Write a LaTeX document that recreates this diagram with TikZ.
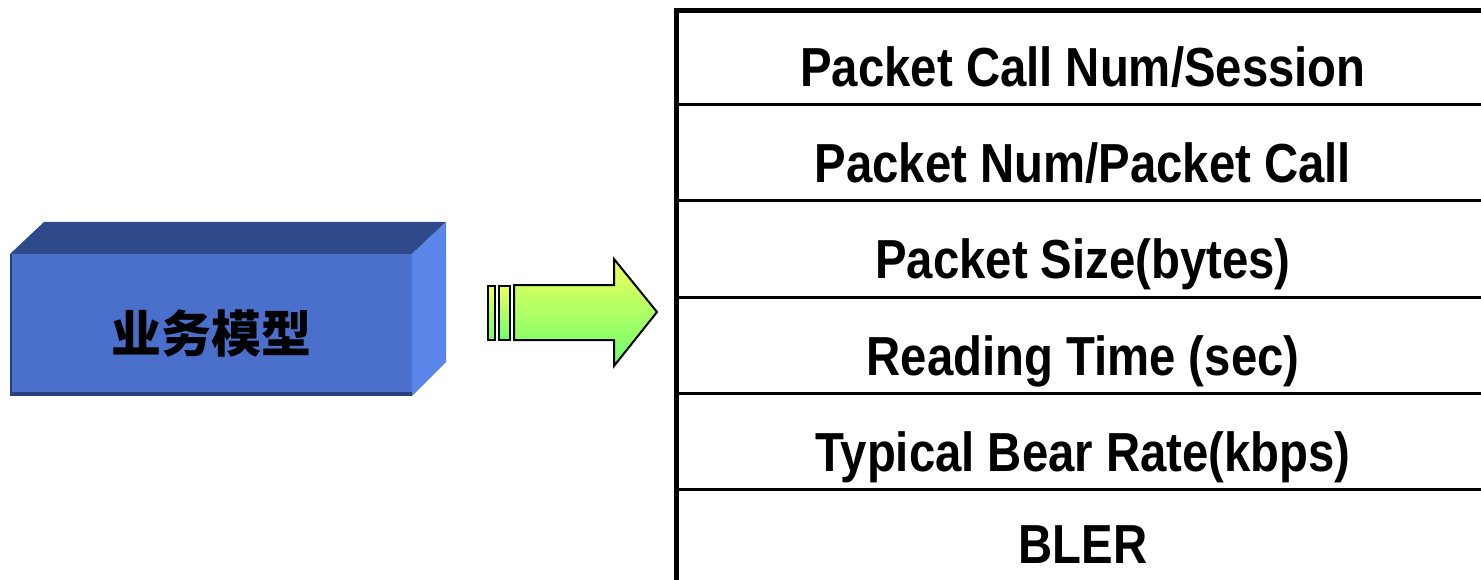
\documentclass[tikz,border=0pt]{standalone}
\usepackage{fontspec}
\setmainfont{Liberation Sans}
\newfontfamily\cellfont[FakeStretch=0.86]{Liberation Sans}
\newfontfamily\cjkfont{Noto Sans CJK SC}
\definecolor{boxfront}{HTML}{4A70CC}
\definecolor{boxtop}{HTML}{2F4A8A}
\definecolor{boxside}{HTML}{5A86EA}
\definecolor{boxedge}{HTML}{27407E}
\definecolor{arrowtop}{HTML}{F0FF5E}
\definecolor{arrowbot}{HTML}{6CFF6C}
\tikzset{
  cell/.style={anchor=base, inner sep=0pt,
    font=\cellfont\bfseries\fontsize{55}{55}\selectfont},
  rule/.style={line width=3pt, black},
  frame/.style={line width=5pt, black, line join=miter},
  arrowpart/.style={top color=arrowtop, bottom color=arrowbot,
    draw=black, line width=2pt, line join=miter},
}
\begin{document}
\begin{tikzpicture}[x=1pt, y=-1pt]
\useasboundingbox (0,0) rectangle (1481,580);
\fill[white] (0,0) rectangle (1481,580);

% 3D block
\fill[boxtop] (10,254) -- (44,222) -- (446,222) -- (412,254) -- cycle;
\fill[boxside] (412,254) -- (446,222) -- (446,362) -- (412,396) -- cycle;
\fill[boxfront] (10,254) rectangle (412,396);
\fill[boxedge] (10,392) rectangle (412,396);
\fill[boxedge] (10,254) rectangle (12,396);
\node[font=\cjkfont\bfseries\fontsize{50}{50}\selectfont, text=black, inner sep=0pt]
  (model) at (211,333) {业务模型};

% block arrow with two trailing bars
\shade[arrowpart] (488,286) rectangle (495,340);
\shade[arrowpart] (499,286) rectangle (510,340);
\shade[arrowpart] (514,285) -- (614,285) -- (614,259) -- (657,312)
  -- (614,366) -- (614,340) -- (514,340) -- cycle;

% parameter table
\draw[frame] (676,580) -- (676,11) -- (1481,11);
\foreach \y in {105,201,297,393,489}
  \draw[rule] (676,\y) -- (1481,\y);

\node[cell] (r1) at (1083,87)  {Packet Call Num/Session};
\node[cell] (r2) at (1083,183) {Packet Num/Packet Call};
\node[cell] (r3) at (1083,279) {Packet Size(bytes)};
\node[cell] (r4) at (1083,375) {Reading Time (sec)};
\node[cell] (r5) at (1083,471) {Typical Bear Rate(kbps)};
\node[cell] (r6) at (1083,563) {BLER};
\end{tikzpicture}
\end{document}
